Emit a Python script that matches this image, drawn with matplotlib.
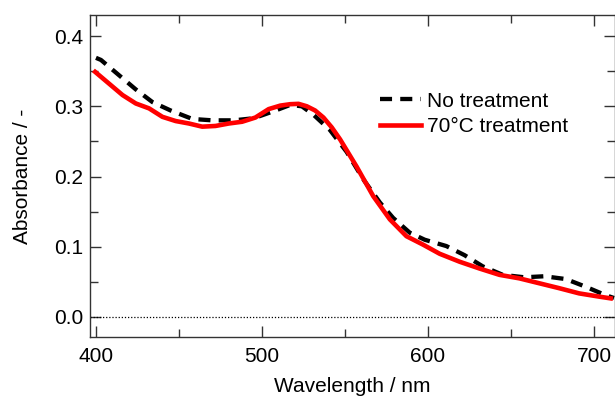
import matplotlib

matplotlib.use("Agg")

import matplotlib.pyplot as plt
from matplotlib.ticker import FormatStrFormatter, MultipleLocator

plt.rcParams["font.family"] = ["Liberation Sans", "DejaVu Sans"]

# No treatment (black dashed)
wl_none = [400, 403, 414, 424, 434, 445, 458, 470, 483, 495, 507, 517, 524,
           531, 541, 551, 561, 571, 579, 589, 598, 611, 622, 633, 645, 658,
           670, 683, 695, 707, 712]
abs_none = [0.369, 0.366, 0.344, 0.324, 0.306, 0.294, 0.282, 0.280, 0.280,
            0.283, 0.293, 0.302, 0.300, 0.288, 0.266, 0.235, 0.196, 0.163,
            0.141, 0.120, 0.110, 0.101, 0.088, 0.072, 0.060, 0.0565, 0.058,
            0.054, 0.043, 0.031, 0.027]

# 70°C treatment (red solid)
wl_70 = [399.5, 408, 416, 424, 432, 440, 448, 456, 464, 472, 480, 488, 496,
         504, 511, 517, 522, 527, 532, 537, 542, 547, 557, 567, 577, 587,
         597, 607, 619, 631, 643, 655, 667, 679, 691, 703, 710]
abs_70 = [0.349, 0.332, 0.316, 0.304, 0.297, 0.285, 0.279, 0.2755, 0.271,
          0.272, 0.2755, 0.278, 0.284, 0.296, 0.301, 0.303, 0.3035, 0.300,
          0.294, 0.284, 0.270, 0.253, 0.214, 0.172, 0.139, 0.115, 0.103,
          0.090, 0.0787, 0.069, 0.060, 0.055, 0.048, 0.041, 0.0336, 0.029,
          0.0265]

fig = plt.figure(figsize=(6.15, 4.01), dpi=100)
ax = fig.add_axes([90 / 615, 1 - 337 / 401, 525 / 615, 322 / 401])

ax.axhline(0, color="black", linestyle=(0, (1, 1.5)), linewidth=0.9)
ax.plot(wl_none, abs_none, color="black", linewidth=3.1,
        linestyle=(0, (2.8, 1.9)), dash_capstyle="butt",
        label="No treatment")
ax.plot(wl_70, abs_70, color="#ff0000", linewidth=3.3,
        solid_joinstyle="round", label="70°C treatment")

ax.set_xlim(396.4, 712.6)
ax.set_ylim(-0.0285, 0.43)
ax.xaxis.set_major_locator(MultipleLocator(100))
ax.xaxis.set_minor_locator(MultipleLocator(50))
ax.yaxis.set_major_locator(MultipleLocator(0.1))
ax.yaxis.set_minor_locator(MultipleLocator(0.05))
ax.yaxis.set_major_formatter(FormatStrFormatter("%.1f"))

ax.tick_params(which="both", direction="in", top=True, right=True,
               width=1, colors="#333333", labelcolor="black", labelsize=15)
ax.tick_params(which="major", length=8)
ax.tick_params(which="minor", length=6)
ax.tick_params(axis="x", which="major", pad=7)
ax.tick_params(axis="y", which="major", pad=5)
for spine in ax.spines.values():
    spine.set_color("#333333")
    spine.set_linewidth(1)

ax.set_xlabel("Wavelength / nm", fontsize=15, labelpad=8)
ax.set_ylabel("Absorbance / -", fontsize=15, labelpad=16)

ax.legend(loc="upper left", bbox_to_anchor=(0.552, 0.762), frameon=False,
          fontsize=15, handlelength=2.0, handletextpad=0.25, borderpad=0,
          borderaxespad=0, labelspacing=0.3)

fig.savefig("out.png", dpi=100)
